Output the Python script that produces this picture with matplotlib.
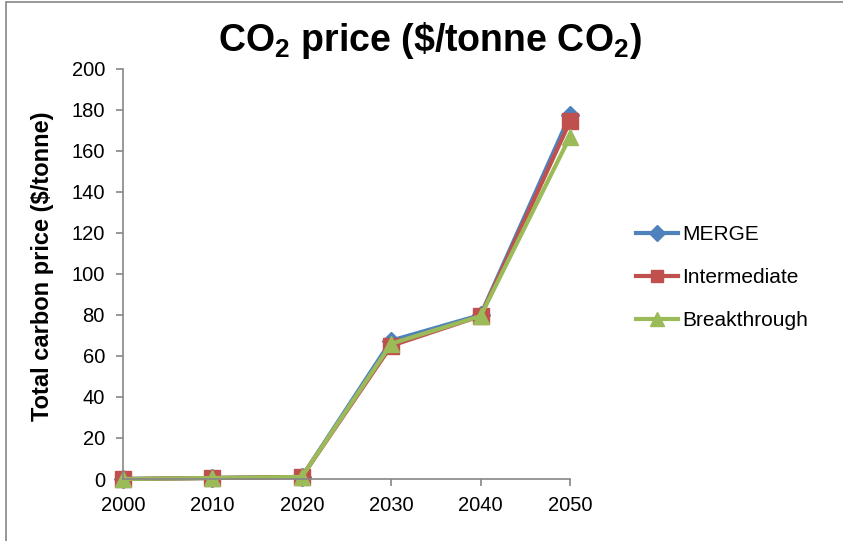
import matplotlib.pyplot as plt
from matplotlib.patches import Rectangle

plt.rcParams["font.family"] = ["Liberation Sans", "DejaVu Sans"]
plt.rcParams["mathtext.fontset"] = "custom"
plt.rcParams["mathtext.rm"] = "Liberation Sans"
plt.rcParams["mathtext.bf"] = "Liberation Sans:bold"

years = [2000, 2010, 2020, 2030, 2040, 2050]
merge = [0, 0.5, 1, 67.5, 80, 177.5]
intermediate = [0, 0.5, 1, 65, 79.5, 174.5]
breakthrough = [0, 0.5, 1, 66, 79.5, 167]

series = [
    ("MERGE", merge, "#4F81BD", "D", 9),
    ("Intermediate", intermediate, "#C0504D", "s", 11),
    ("Breakthrough", breakthrough, "#9BBB59", "^", 12),
]

fig = plt.figure(figsize=(8.43, 5.41), dpi=100)
ax = fig.add_axes([0.1459, 0.1146, 0.5303, 0.7579])

for name, vals, color, marker, ms in series:
    ax.plot(years, vals, color=color, lw=3, marker=marker, ms=ms,
            label=name, clip_on=False)

ax.set_xlim(2000, 2050)
ax.set_ylim(0, 200)
ax.set_xticks(years)
ax.set_yticks(range(0, 201, 20))
for side in ("top", "right"):
    ax.spines[side].set_visible(False)
for side in ("left", "bottom"):
    ax.spines[side].set_color("#868686")
    ax.spines[side].set_linewidth(1.2)
ax.tick_params(colors="#868686", labelcolor="black", labelsize=14.5,
               length=5, width=1.2)
ax.tick_params(axis="x", pad=7)
ax.tick_params(axis="y", pad=8)

ax.set_ylabel("Total carbon price ($/tonne)", fontsize=17,
              fontweight="bold")
ax.yaxis.set_label_coords(-0.155, 0.52)
fig.text(0.51, 0.925, r"CO$_\mathbf{2}$ price (\$/tonne CO$_\mathbf{2}$)",
         ha="center", va="center", fontsize=27, fontweight="bold")

ax.legend(loc="center left", bbox_to_anchor=(0.745, 0.487),
          bbox_transform=fig.transFigure, frameon=False, fontsize=15,
          handlelength=2.0, handletextpad=0.2, labelspacing=1.15,
          borderaxespad=0, markerscale=0.85)

# outer chart frame (cropped on the right and bottom in the source)
fig.patches.append(Rectangle((0.007, -0.05), 1.05, 1.046, transform=fig.transFigure,
                             fill=False, edgecolor="#868686", lw=1.2))

fig.savefig("out.png", dpi=100)
